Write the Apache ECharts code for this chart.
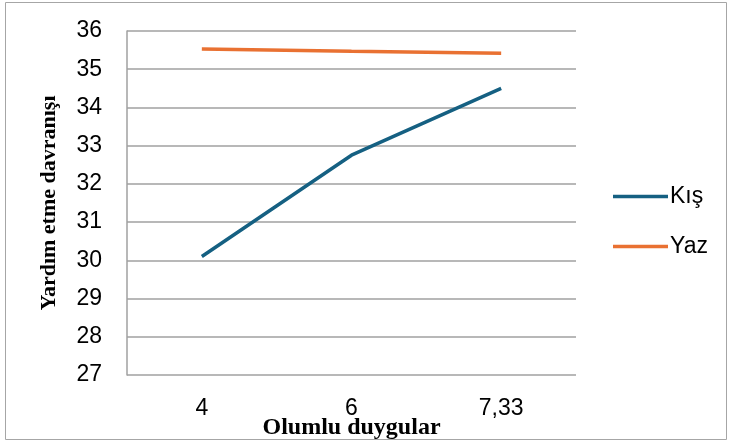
<!DOCTYPE html>
<html><head><meta charset="utf-8">
<script src="https://cdn.jsdelivr.net/npm/echarts@6/dist/echarts.min.js"></script>
<style>html,body{margin:0;padding:0;background:#fff}#c{width:729px;height:444px}</style>
</head><body><div id="c"></div>
<script>
const categories = ['4', '6', '7,33'];
const kis = [30.1, 32.75, 34.5];
const yaz = [35.53, 35.47, 35.42];
const seriesNames = ['Kış', 'Yaz'];
const yTicks = {min: 27, max: 36, interval: 1};

const chart = echarts.init(document.getElementById('c'), null, {renderer: 'canvas'});
chart.setOption({
  animation: false,
  backgroundColor: '#fff',
  graphic: [{type: 'rect', shape: {x: 5.5, y: 2.5, width: 721, height: 437}, style: {fill: 'none', stroke: '#a6a6a6', lineWidth: 1}}],
  grid: {left: 127, right: 153, top: 31, bottom: 69, containLabel: false, outerBoundsMode: 'none'},
  legend: {
    orient: 'vertical', left: 613, top: 185, itemGap: 27, padding: 0,
    itemWidth: 55, itemHeight: 14, icon: 'path://M0,6 L55,6 L55,9.5 L0,9.5 Z',
    textStyle: {fontFamily: 'Liberation Sans, Arial', fontSize: 23, lineHeight: 22, color: '#000', padding: [0,0,0,-3]},
    data: seriesNames
  },
  xAxis: {
    type: 'category', data: categories, boundaryGap: true,
    axisLine: {show: false}, axisTick: {show: false},
    axisLabel: {fontFamily: 'Liberation Sans, Arial', fontSize: 23, color: '#000', margin: 22},
    name: 'Olumlu duygular', nameLocation: 'middle', nameGap: 41, nameMoveOverlap: false,
    nameTextStyle: {fontFamily: 'Liberation Serif, Times New Roman', fontWeight: 'bold', fontSize: 24, color: '#000'}
  },
  yAxis: {
    type: 'value', min: yTicks.min, max: yTicks.max, interval: yTicks.interval,
    axisLine: {show: true, lineStyle: {color: '#a0a0a0', width: 1.5}},
    axisTick: {show: false},
    splitLine: {lineStyle: {color: '#a0a0a0', width: 1.5}},
    axisLabel: {fontFamily: 'Liberation Sans, Arial', fontSize: 23, color: '#000', margin: 25},
    name: 'Yardım etme davranışı', nameLocation: 'middle', nameGap: 67, nameMoveOverlap: false,
    nameTextStyle: {fontFamily: 'Liberation Serif, Times New Roman', fontWeight: 'bold', fontSize: 22, color: '#000'}
  },
  series: [
    {name: seriesNames[0], type: 'line', data: kis, symbol: 'none', lineStyle: {color: '#156082', width: 3.5}, itemStyle: {color: '#156082'}},
    {name: seriesNames[1], type: 'line', data: yaz, symbol: 'none', lineStyle: {color: '#E97132', width: 3.5}, itemStyle: {color: '#E97132'}}
  ]
});
</script></body></html>
